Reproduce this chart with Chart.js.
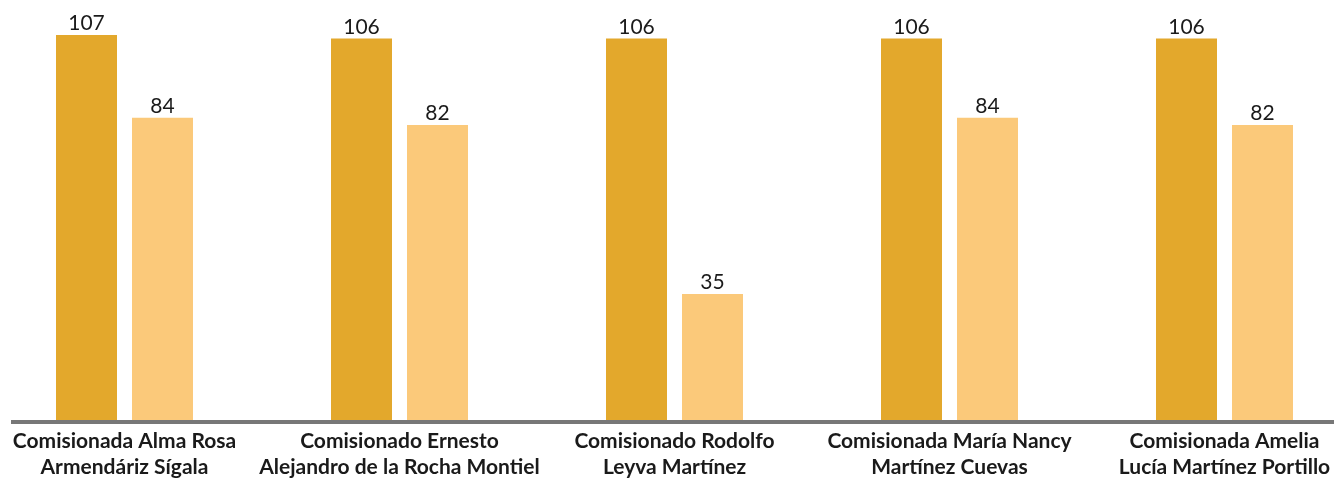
<!DOCTYPE html>
<html lang="es">
<head>
<meta charset="utf-8">
<title>Comisionados</title>
<script src="https://cdn.jsdelivr.net/npm/chart.js@4/dist/chart.umd.min.js"></script>
<style>
  html, body { margin: 0; padding: 0; background: #fff; overflow: hidden; }
  #wrap { position: relative; width: 1334px; height: 480px; overflow: hidden; }
  #chart { position: absolute; left: -13px; top: 0; }
</style>
</head>
<body>
<div id="wrap"><canvas id="chart" width="1375" height="480"></canvas></div>
<script>
// datos
const categories = [
  ["Comisionada Alma Rosa", "Armendáriz Sígala"],
  ["Comisionado Ernesto", "Alejandro de la Rocha Montiel"],
  ["Comisionado Rodolfo", "Leyva Martínez"],
  ["Comisionada María Nancy", "Martínez Cuevas"],
  ["Comisionada Amelia", "Lucía Martínez Portillo"]
];
const serieA = [107, 106, 106, 106, 106];
const serieB = [84, 82, 35, 84, 82];

const COLORS = {
  gold: "#E3A82C",
  light: "#FBC97A",
  axis: "#777777",
  text: "#1a1a1a"
};

// etiquetas sobre las barras
const valueLabels = {
  id: "valueLabels",
  afterDatasetsDraw(chart){
    const ctx = chart.ctx;
    ctx.save();
    ctx.font = "21px Lato";
    ctx.fillStyle = COLORS.text;
    ctx.textAlign = "center";
    ctx.textBaseline = "alphabetic";
    chart.data.datasets.forEach((ds, i) => {
      chart.getDatasetMeta(i).data.forEach((bar, j) => {
        ctx.fillText(String(ds.data[j]), bar.x, bar.y - 5);
      });
    });
    ctx.restore();
  }
};

// línea base (empieza un poco a la derecha del borde)
const baseLine = {
  id: "baseLine",
  afterDatasetsDraw(chart){
    const ctx = chart.ctx;
    const y = chart.scales.y.getPixelForValue(0);
    ctx.save();
    ctx.fillStyle = COLORS.axis;
    ctx.fillRect(24, y, chart.width - 24, 4);
    ctx.restore();
  }
};

new Chart(document.getElementById("chart"), {
  type: "bar",
  data: {
    labels: categories,
    datasets: [
      { data: serieA, backgroundColor: COLORS.gold },
      { data: serieB, backgroundColor: COLORS.light }
    ]
  },
  options: {
    responsive: false,
    animation: false,
    events: [],
    layout: { padding: 0 },
    datasets: {
      bar: { categoryPercentage: 0.5527, barPercentage: 0.8026 }
    },
    plugins: {
      legend: { display: false },
      tooltip: { enabled: false }
    },
    scales: {
      x: {
        grid: { display: false, drawTicks: false },
        border: { display: false },
        ticks: {
          autoSkip: false,
          maxRotation: 0,
          padding: 9,
          color: COLORS.text,
          font: { family: "Lato", size: 21, weight: "bold", lineHeight: 1.2 }
        },
        afterFit(scale){ scale.height = 60; }
      },
      y: {
        display: false,
        min: 0,
        max: 116.7
      }
    }
  },
  plugins: [valueLabels, baseLine]
});
</script>
</body>
</html>
